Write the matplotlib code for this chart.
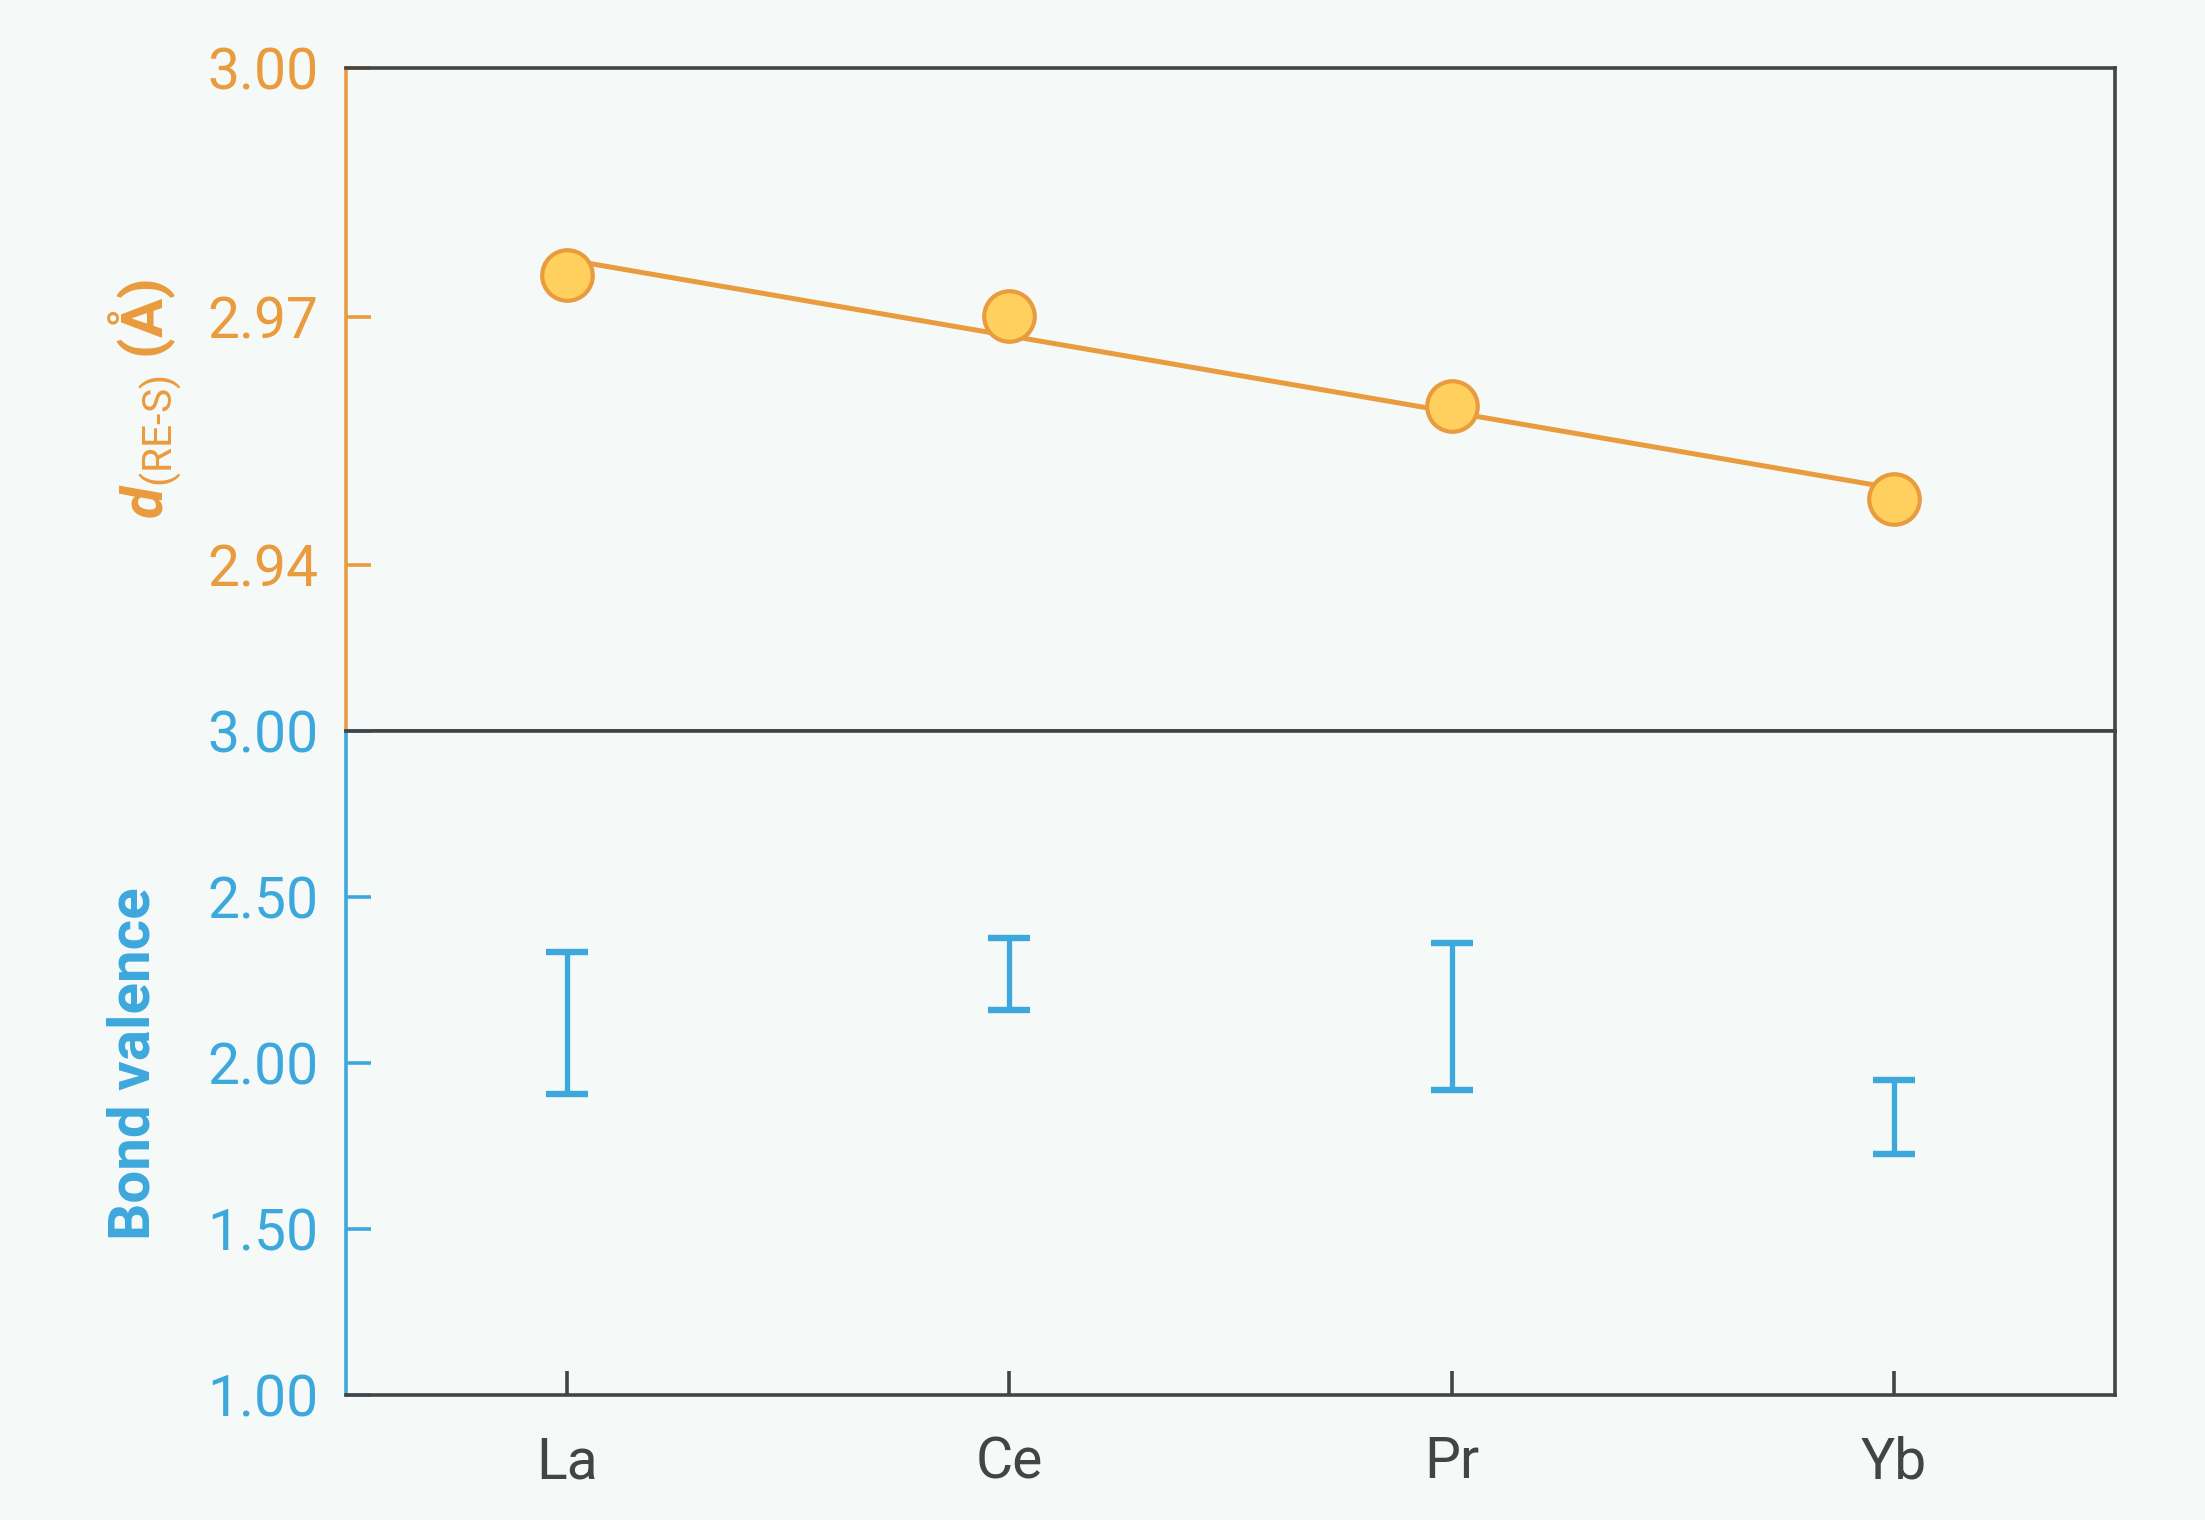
#!/usr/bin/env python3
"""RE-S bond length (top) and bond valence range (bottom) for La, Ce, Pr, Yb."""
import numpy as np
import matplotlib
matplotlib.use("Agg")
import matplotlib.pyplot as plt

# data
elements = ["La", "Ce", "Pr", "Yb"]
d_res = [2.9750, 2.9701, 2.9592, 2.9480]          # d(RE-S) in Angstrom
valence_low = [1.907, 2.160, 1.918, 1.726]
valence_high = [2.334, 2.378, 2.361, 1.949]

ORANGE = "#E99B3D"
FILL = "#FFD05E"
BLUE = "#3DA8DC"
DARK = "#444444"
BG = "#F5F9F8"

plt.rcParams["font.family"] = ["Roboto", "DejaVu Sans"]
plt.rcParams["mathtext.fontset"] = "custom"
plt.rcParams["mathtext.rm"] = "Roboto"
plt.rcParams["mathtext.it"] = "Roboto:italic"
plt.rcParams["mathtext.bf"] = "Roboto:bold"
plt.rcParams["mathtext.bfit"] = "Roboto:bold:italic"

fig = plt.figure(figsize=(11.025, 7.6), dpi=200, facecolor=BG)
left, right = 0.1569, 0.9592
top, mid, bottom = 0.9555, 0.5189, 0.0822
ax_top = fig.add_axes([left, mid, right - left, top - mid])
ax_bot = fig.add_axes([left, bottom, right - left, mid - bottom], sharex=ax_top)

x = np.arange(len(elements))

# --- top panel: bond length with linear fit
slope, icpt = np.polyfit(x, d_res, 1)
xf = np.array([x[0], x[-1]])
ax_top.plot(xf, slope * xf + icpt, color=ORANGE, lw=1.8, zorder=2)
ax_top.plot(x, d_res, "o", ms=18.2, mfc=FILL, mec=ORANGE, mew=1.5, zorder=3)
ax_top.set_ylim(2.92, 3.00)
ax_top.set_yticks([2.94, 2.97, 3.00])
ax_top.set_yticklabels(["2.94", "2.97", "3.00"])

# --- bottom panel: bond valence ranges
lo = np.array(valence_low)
hi = np.array(valence_high)
ctr = (lo + hi) / 2
ax_bot.errorbar(x, ctr, yerr=(hi - lo) / 2, fmt="none", ecolor=BLUE,
                elinewidth=1.9, capsize=7.6, capthick=2.3)
ax_bot.set_ylim(1.0, 3.0)
ax_bot.set_yticks([1.0, 1.5, 2.0, 2.5, 3.0])
ax_bot.set_yticklabels(["1.00", "1.50", "2.00", "2.50", "3.00"])
ax_bot.set_xlim(-0.5, 3.5)
ax_bot.set_xticks(x)
ax_bot.set_xticklabels(elements)

for ax, col in [(ax_top, ORANGE), (ax_bot, BLUE)]:
    ax.set_facecolor(BG)
    for s in ["top", "right", "bottom"]:
        ax.spines[s].set_color(DARK)
        ax.spines[s].set_linewidth(1.3)
    ax.spines["left"].set_color(col)
    ax.spines["left"].set_linewidth(1.3)
    ax.tick_params(axis="y", direction="in", length=9, width=1.3, color=col,
                   labelcolor=col, labelsize=20.5, pad=10)

ax_top.tick_params(axis="x", bottom=False, labelbottom=False)
ax_bot.tick_params(axis="x", direction="in", length=8.5, width=1.3, color=DARK,
                   labelcolor=DARK, labelsize=20.5, pad=14.5)

ax_top.set_ylabel(r"$\mathbfit{d}_{\text{(RE-S)}}$ $\mathbf{(\AA)}$",
                  color=ORANGE, fontsize=21, fontweight="bold")
ax_top.yaxis.set_label_coords(-0.092, 0.5)
ax_bot.set_ylabel("Bond valence", color=BLUE, fontsize=21, fontweight="bold")
ax_bot.yaxis.set_label_coords(-0.104, 0.5)

fig.savefig("out.png", dpi=200, facecolor=BG)
